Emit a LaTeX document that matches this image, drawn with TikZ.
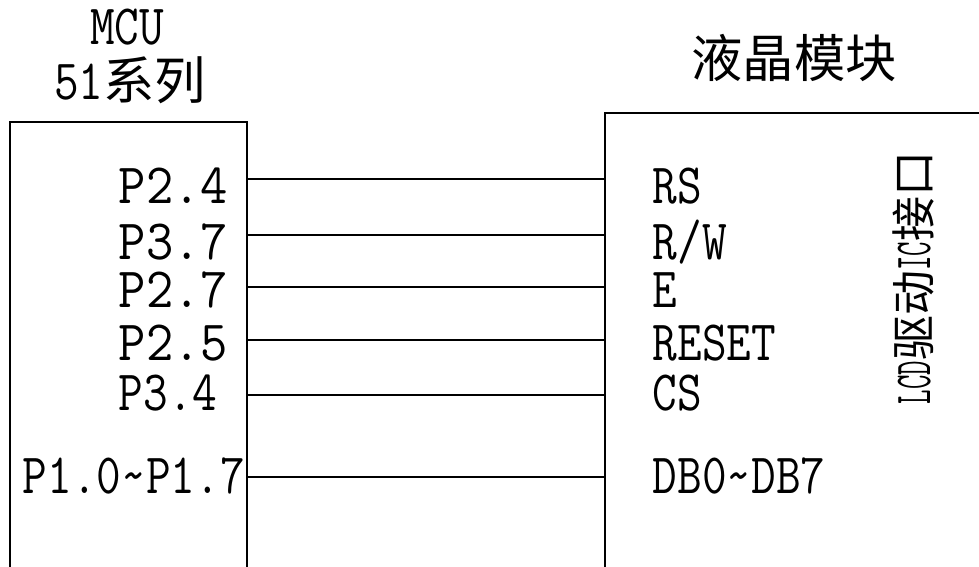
\documentclass[tikz,border=0pt]{standalone}
\usepackage{fontspec}
\setmainfont{Latin Modern Mono}[FakeStretch=0.84]
\newfontfamily\cjk{Noto Sans CJK SC}[Scale=0.9]
\newfontfamily\widemono{Latin Modern Mono}[FakeStretch=0.93]
\newfontfamily\narrowmono{Latin Modern Mono}[FakeStretch=0.54]

\begin{document}
\begin{tikzpicture}[x=1pt, y=-1pt, line width=1.6pt,
    box/.style={line width=1.6pt},
    wire/.style={line width=1.6pt},
    title/.style={anchor=base, inner sep=0pt, font=\fontsize{57}{60}\selectfont},
    pin label/.style={anchor=base west, inner sep=0pt, text height=34pt, text depth=0pt,
                      font=\fontsize{57}{60}\selectfont},
    port label/.style={pin label, font=\fontsize{57}{60}\widemono},
    side label/.style={inner sep=0pt, rotate=90, font=\fontsize{50}{52}\selectfont}]

  \useasboundingbox (0,0) rectangle (979,567);

  % MCU box and LCD module box (both run off the page)
  \draw[box] (10,567) -- (10,122) -- (247,122) -- (247,567);
  \draw[box] (605,567) -- (605,113) -- (979,113);

  % titles
  \node[title] (mcu) at (127,45) {MCU};
  \node[title] (series) at (130,100) {51{\cjk 系列}};
  \node[title] (lcm) at (794,78) {\cjk 液晶模块};
  \node[side label] (ifc) at (913,278)
    {{\fontsize{52}{54}\selectfont\narrowmono LCD}{\cjk 驱动}{\fontsize{52}{54}\selectfont\narrowmono IC}{\cjk 接口}};

  % pins on the MCU side
  \coordinate (m1) at (247,179);
  \coordinate (m2) at (247,235);
  \coordinate (m3) at (247,287);
  \coordinate (m4) at (247,340);
  \coordinate (m5) at (247,395);
  \coordinate (m6) at (247,477);
  \node[port label] (p24) at (118,203) {P2.4};
  \node[port label] (p37) at (118,259) {P3.7};
  \node[port label] (p27) at (118,307) {P2.7};
  \node[port label] (p25) at (118,360) {P2.5};
  \node[pin label] (p34) at (118,410) {P3.4};
  \node[pin label] (p1x) at (22,493) {P1.0\char`\~P1.7};

  % pins on the LCD side
  \coordinate (l1) at (605,179);
  \coordinate (l2) at (605,235);
  \coordinate (l3) at (605,287);
  \coordinate (l4) at (605,340);
  \coordinate (l5) at (605,395);
  \coordinate (l6) at (605,477);
  \node[pin label] (rs) at (652,203) {RS};
  \node[pin label] (rw) at (652,259) {R/W};
  \node[pin label] (en) at (652,307) {E};
  \node[pin label] (rst) at (652,360) {RESET};
  \node[pin label] (cs) at (652,410) {CS};
  \node[pin label] (db) at (652,493) {DB0\char`\~DB7};

  % wires
  \draw[wire] (m1) -- (l1);
  \draw[wire] (m2) -- (l2);
  \draw[wire] (m3) -- (l3);
  \draw[wire] (m4) -- (l4);
  \draw[wire] (m5) -- (l5);
  \draw[wire] (m6) -- (l6);

\end{tikzpicture}
\end{document}
